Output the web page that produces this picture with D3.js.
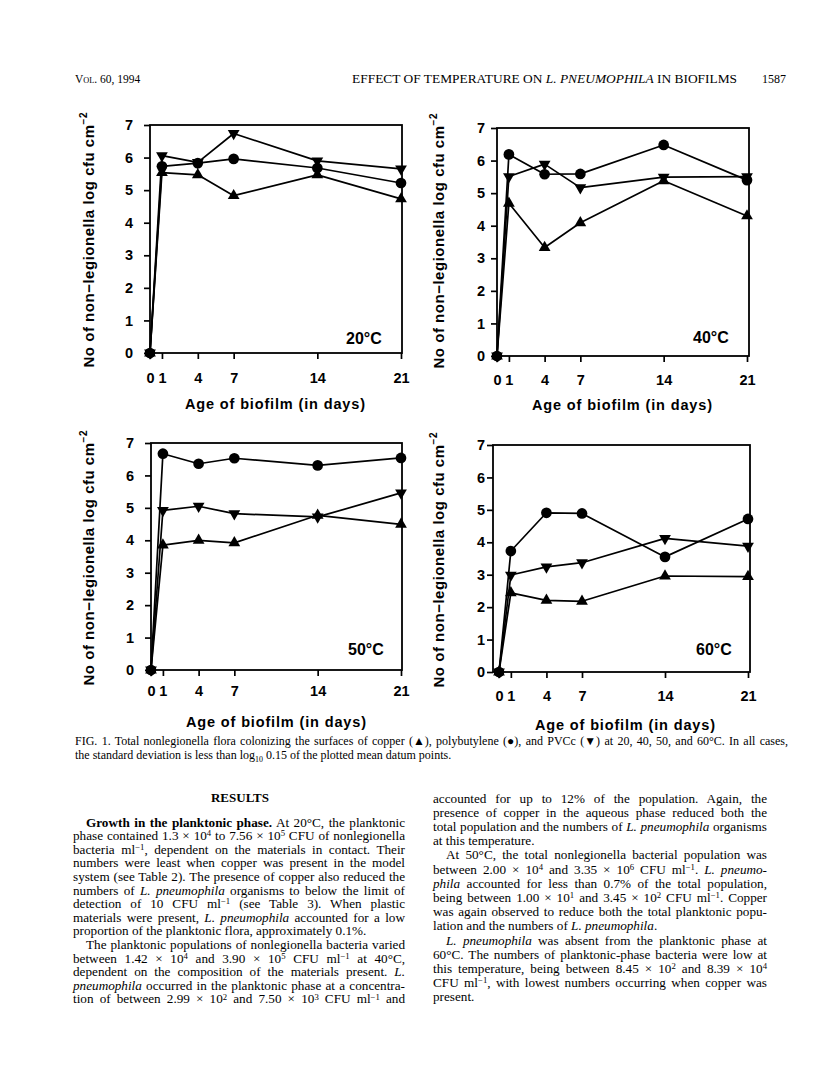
<!DOCTYPE html>
<html>
<head>
<meta charset="utf-8">
<script src="https://cdn.jsdelivr.net/npm/d3@7"></script>
<style>
  body { margin: 0; background: #fff; }
  svg { display: block; }
</style>
</head>
<body>
<script>
// sampling days and series values (log cfu cm-2)
var days = [0, 1, 4, 7, 14, 21];
var yTicks = [0, 1, 2, 3, 4, 5, 6, 7];

var copper20 = [0, 5.54, 5.47, 4.83, 5.47, 4.73];
var poly20   = [0, 5.73, 5.83, 5.96, 5.68, 5.22];
var pvcc20   = [0, 6.06, 5.85, 6.74, 5.90, 5.65];

var copper40 = [0, 4.69, 3.33, 4.09, 5.38, 4.30];
var poly40   = [0, 6.19, 5.58, 5.59, 6.48, 5.40];
var pvcc40   = [0, 5.51, 5.89, 5.17, 5.49, 5.51];

var copper50 = [0, 3.85, 4.00, 3.92, 4.77, 4.49];
var poly50   = [0, 6.67, 6.36, 6.53, 6.31, 6.54];
var pvcc50   = [0, 4.92, 5.05, 4.82, 4.72, 5.46];

var copper60 = [0, 2.44, 2.21, 2.18, 2.96, 2.94];
var poly60   = [0, 3.73, 4.91, 4.89, 3.55, 4.72];
var pvcc60   = [0, 2.99, 3.24, 3.37, 4.12, 3.88];

var tempLabels = ["20°C", "40°C", "50°C", "60°C"];

// page layout
var width = 816, height = 1085;
var sans = "'Liberation Sans', Arial, Helvetica, sans-serif";
var serif = "'Liberation Serif', 'Times New Roman', serif";

var svg = d3.select("body").append("svg")
            .attr("width", width)
            .attr("height", height);

svg.append("rect").attr("width", width).attr("height", height).attr("fill", "#fff");

// panel frames (pixel layout only)
var panels = [
  {temp: tempLabels[0], cu: copper20, pb: poly20, pv: pvcc20,
   x0: 150, x21: 401, boxL: 150, boxR: 402, y0: 353, y7: 125, yPad: 11, xPad: 14,
   yLabX: 94, yLabY: 240, xLabX: 275, xLabY: 409, tX: 346, tY: 344},
  {temp: tempLabels[1], cu: copper40, pb: poly40, pv: pvcc40,
   x0: 497, x21: 747, boxL: 497, boxR: 749, y0: 356, y7: 128, yPad: 6, xPad: 13,
   yLabX: 444, yLabY: 241, xLabX: 622, xLabY: 410, tX: 693, tY: 343},
  {temp: tempLabels[2], cu: copper50, pb: poly50, pv: pvcc50,
   x0: 151, x21: 401, boxL: 151, boxR: 402, y0: 670, y7: 443, yPad: 11, xPad: 10,
   yLabX: 94, yLabY: 558, xLabX: 276, xLabY: 727, tX: 348, tY: 655},
  {temp: tempLabels[3], cu: copper60, pb: poly60, pv: pvcc60,
   x0: 499, x21: 748, boxL: 493, boxR: 750, y0: 672, y7: 445, yPad: 2, xPad: 13,
   yLabX: 444, yLabY: 560, xLabX: 625, xLabY: 730, tX: 696, tY: 655}
];

var triUp = d3.symbol().type(d3.symbolTriangle).size(60);
var dot = d3.symbol().type(d3.symbolCircle).size(90);

panels.forEach(function(p) {
  var g = svg.append("g");
  var x = d3.scaleLinear().domain([0, 21]).range([p.x0, p.x21]);
  var y = d3.scaleLinear().domain([0, 7]).range([p.y0, p.y7]);

  g.append("rect")
   .attr("x", p.boxL).attr("y", p.y7)
   .attr("width", p.boxR - p.boxL).attr("height", p.y0 - p.y7)
   .attr("fill", "none").attr("stroke", "#000").attr("stroke-width", 1.8);

  var yAxis = d3.axisLeft(y).tickValues(yTicks).tickSize(6).tickPadding(p.yPad).tickFormat(d3.format("d"));
  var xAxis = d3.axisBottom(x).tickValues(days).tickSize(6).tickPadding(p.xPad).tickFormat(d3.format("d"));

  g.append("g").attr("transform", "translate(" + p.boxL + ",0)").call(yAxis)
   .call(function(a) { a.select(".domain").remove(); });
  g.append("g").attr("transform", "translate(0," + p.y0 + ")").call(xAxis)
   .call(function(a) { a.select(".domain").remove(); });

  g.selectAll(".tick line").attr("stroke", "#000").attr("stroke-width", 1.7);
  g.selectAll(".tick text")
   .attr("font-family", sans).attr("font-size", 14.5).attr("font-weight", "bold").attr("fill", "#000");

  // data lines then markers
  var line = d3.line()
               .x(function(d, i) { return x(days[i]); })
               .y(function(d) { return y(d); });

  var series = [
    {v: p.cu, shape: triUp, rot: 0},
    {v: p.pb, shape: dot, rot: 0},
    {v: p.pv, shape: triUp, rot: 180}
  ];

  series.forEach(function(s) {
    g.append("path").attr("d", line(s.v))
     .attr("fill", "none").attr("stroke", "#000").attr("stroke-width", 1.7).attr("stroke-linejoin", "round");
  });
  series.forEach(function(s) {
    g.selectAll(null).data(s.v).enter().append("path")
     .attr("d", s.shape)
     .attr("transform", function(d, i) {
        return "translate(" + x(days[i]) + "," + y(d) + ") rotate(" + s.rot + ")";
     })
     .attr("fill", "#000");
  });

  // axis titles
  var yl = g.append("text")
            .attr("transform", "translate(" + p.yLabX + "," + p.yLabY + ") rotate(-90)")
            .attr("text-anchor", "middle")
            .attr("font-family", sans).attr("font-size", 15).attr("font-weight", "bold")
            .attr("textLength", 255).attr("lengthAdjust", "spacing");
  yl.append("tspan").text("No of non\u2212legionella log cfu cm");
  yl.append("tspan").attr("font-size", 10).attr("dy", -7).text("\u22122");

  g.append("text")
   .attr("x", p.xLabX).attr("y", p.xLabY)
   .attr("text-anchor", "middle")
   .attr("font-family", sans).attr("font-size", 14.5).attr("font-weight", "bold")
   .attr("textLength", 180).attr("lengthAdjust", "spacing")
   .text("Age of biofilm (in days)");

  g.append("text")
   .attr("x", p.tX).attr("y", p.tY)
   .attr("font-family", sans).attr("font-size", 16).attr("font-weight", "bold")
   .text(p.temp);
});

// ---- running text helpers ----
function addLine(g, str, x, y, w, justify, size, anchor) {
  var t = g.append("text").attr("x", x).attr("y", y)
           .attr("font-family", serif).attr("font-size", size).attr("fill", "#000");
  if (anchor) t.attr("text-anchor", anchor);
  var parts = str.split(/(<\/?(?:b|i|sup|sub|sc)>)/);
  var bold = false, ital = false, shift = 0, small = false, carry = 0;
  parts.forEach(function(s) {
    if (s === "") return;
    if (s === "<b>") { bold = true; return; }
    if (s === "</b>") { bold = false; return; }
    if (s === "<i>") { ital = true; return; }
    if (s === "</i>") { ital = false; return; }
    if (s === "<sc>") { small = true; return; }
    if (s === "</sc>") { small = false; return; }
    if (s === "<sup>") { shift = -3.8; carry += shift; return; }
    if (s === "<sub>") { shift = 2.5; carry += shift; return; }
    if (s === "</sup>" || s === "</sub>") { carry -= shift; shift = 0; return; }
    var ts = t.append("tspan").text(s);
    if (carry !== 0) { ts.attr("dy", carry); carry = 0; }
    if (bold) ts.attr("font-weight", "bold");
    if (ital) ts.attr("font-style", "italic");
    if (shift !== 0) ts.attr("font-size", size * 0.66);
    else if (small) ts.attr("font-size", size * 0.72);
  });
  if (carry !== 0) t.append("tspan").attr("dy", carry).text("");
  if (justify) {
    var nat = t.node().getComputedTextLength();
    var plain = str.replace(/<[^>]+>/g, "");
    var spaces = plain.split(" ").length - 1;
    var ws = spaces > 0 ? (w - nat) / spaces : 0;
    if (ws < -1.2) {
      t.attr("textLength", w).attr("lengthAdjust", "spacingAndGlyphs");
    } else if (spaces > 0) {
      t.attr("word-spacing", ws);
    }
  }
  return t;
}

var page = svg.append("g");

// running head
addLine(page, "V<sc>OL</sc>. 60, 1994", 75, 83, 0, false, 11.5);
addLine(page, "EFFECT OF TEMPERATURE ON <i>L. PNEUMOPHILA</i> IN BIOFILMS", 737, 83, 0, false, 13.4, "end");
addLine(page, "1587", 786, 83, 0, false, 12, "end");

// figure legend
addLine(page, "FIG. 1. Total nonlegionella flora colonizing the surfaces of copper (\u25B2), polybutylene (\u25CF), and PVCc (\u25BC) at 20, 40, 50, and 60°C. In all cases,", 75, 745, 713, true, 12);
addLine(page, "the standard deviation is less than log<sub>10</sub> 0.15 of the plotted mean datum points.", 75, 759, 0, false, 12);

// body text, two columns
var leftLines = [
  ["<b>Growth in the planktonic phase.</b> At 20°C, the planktonic", 1, 0],
  ["phase contained 1.3 × 10<sup>4</sup> to 7.56 × 10<sup>5</sup> CFU of nonlegionella", 0, 0],
  ["bacteria ml<sup>\u22121</sup>, dependent on the materials in contact. Their", 0, 0],
  ["numbers were least when copper was present in the model", 0, 0],
  ["system (see Table 2). The presence of copper also reduced the", 0, 0],
  ["numbers of <i>L. pneumophila</i> organisms to below the limit of", 0, 0],
  ["detection of 10 CFU ml<sup>\u22121</sup> (see Table 3). When plastic", 0, 0],
  ["materials were present, <i>L. pneumophila</i> accounted for a low", 0, 0],
  ["proportion of the planktonic flora, approximately 0.1%.", 0, 1],
  ["The planktonic populations of nonlegionella bacteria varied", 1, 0],
  ["between 1.42 × 10<sup>4</sup> and 3.90 × 10<sup>5</sup> CFU ml<sup>\u22121</sup> at 40°C,", 0, 0],
  ["dependent on the composition of the materials present. <i>L.</i>", 0, 0],
  ["<i>pneumophila</i> occurred in the planktonic phase at a concentra-", 0, 0],
  ["tion of between 2.99 × 10<sup>2</sup> and 7.50 × 10<sup>3</sup> CFU ml<sup>\u22121</sup> and", 0, 0]
];

var rightLines = [
  ["accounted for up to 12% of the population. Again, the", 0, 0],
  ["presence of copper in the aqueous phase reduced both the", 0, 0],
  ["total population and the numbers of <i>L. pneumophila</i> organisms", 0, 0],
  ["at this temperature.", 0, 1],
  ["At 50°C, the total nonlegionella bacterial population was", 1, 0],
  ["between 2.00 × 10<sup>4</sup> and 3.35 × 10<sup>6</sup> CFU ml<sup>\u22121</sup>. <i>L. pneumo-</i>", 0, 0],
  ["<i>phila</i> accounted for less than 0.7% of the total population,", 0, 0],
  ["being between 1.00 × 10<sup>1</sup> and 3.45 × 10<sup>2</sup> CFU ml<sup>\u22121</sup>. Copper", 0, 0],
  ["was again observed to reduce both the total planktonic popu-", 0, 0],
  ["lation and the numbers of <i>L. pneumophila</i>.", 0, 1],
  ["<i>L. pneumophila</i> was absent from the planktonic phase at", 1, 0],
  ["60°C. The numbers of planktonic-phase bacteria were low at", 0, 0],
  ["this temperature, being between 8.45 × 10<sup>2</sup> and 8.39 × 10<sup>4</sup>", 0, 0],
  ["CFU ml<sup>\u22121</sup>, with lowest numbers occurring when copper was", 0, 0],
  ["present.", 0, 1]
];

addLine(page, "<b>RESULTS</b>", 240, 802, 0, false, 13, "middle");

var colL = {x: 73, w: 332, y: 826.5, step: 13.6};
var colR = {x: 433, w: 334, y: 802.5, step: 14.2};
var bodySize = 13.2;

leftLines.forEach(function(l, i) {
  var ind = l[1] ? 13 : 0;
  addLine(page, l[0], colL.x + ind, colL.y + i * colL.step, colL.w - ind, !l[2], bodySize);
});
rightLines.forEach(function(l, i) {
  var ind = l[1] ? 13 : 0;
  addLine(page, l[0], colR.x + ind, colR.y + i * colR.step, colR.w - ind, !l[2], bodySize);
});
</script>
</body>
</html>
